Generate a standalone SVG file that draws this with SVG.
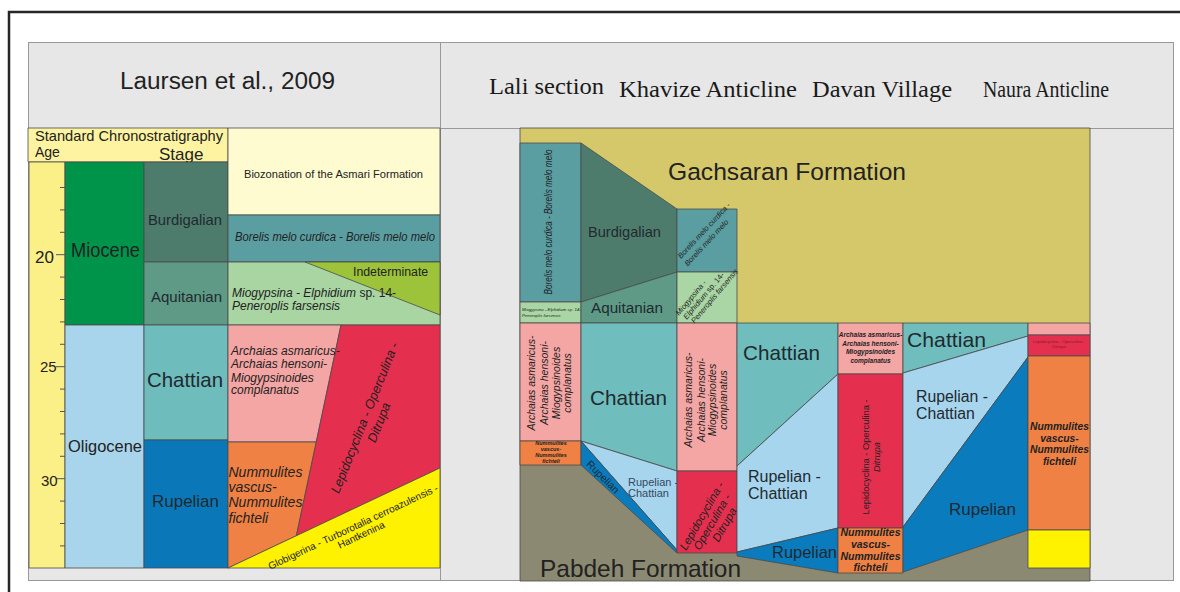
<svg xmlns="http://www.w3.org/2000/svg" width="1180" height="592" viewBox="0 0 1180 592">
<style>
text{font-family:"Liberation Sans",Arial,sans-serif;fill:#222}
.i{font-style:italic}
.b{font-weight:bold}
.m{text-anchor:middle}
.sr{font-family:"Liberation Serif","Times New Roman",serif;fill:#1a1a1a}
.e{stroke:#4a4a4a;stroke-width:0.8;stroke-linejoin:round}
.tk{stroke:#555;stroke-width:1;fill:none}
.st{fill:#1f2a30}
</style>
<rect width="1180" height="592" fill="#fff"/>
<path d="M9,592 V12 H1180" fill="none" stroke="#262626" stroke-width="2.5"/>
<g id="frames">
<rect x="28.5" y="42.5" width="412" height="538" fill="#e7e7e7" stroke="#999"/>
<rect x="440.5" y="42.5" width="733" height="538" fill="#e7e7e7" stroke="#999"/>
<line x1="28" y1="128.5" x2="1174" y2="128.5" stroke="#999"/>
</g>
<g id="headers">
<text x="120" y="89" font-size="23" textLength="215" lengthAdjust="spacingAndGlyphs">Laursen et al., 2009</text>
<text class="sr" x="489" y="94" font-size="24" textLength="115" lengthAdjust="spacingAndGlyphs">Lali section</text>
<text class="sr" x="619" y="97" font-size="24" textLength="178" lengthAdjust="spacingAndGlyphs">Khavize Anticline</text>
<text class="sr" x="812" y="97" font-size="24" textLength="140" lengthAdjust="spacingAndGlyphs">Davan Village</text>
<text class="sr" x="983" y="97" font-size="23" textLength="126" lengthAdjust="spacingAndGlyphs">Naura Anticline</text>
</g>
<g id="chrono-header">
<rect class="e" x="28" y="128" width="200" height="34" fill="#fdf3a0"/>
<text x="35" y="141" font-size="14.4" textLength="188" lengthAdjust="spacingAndGlyphs">Standard Chronostratigraphy</text>
<text x="35" y="157" font-size="14">Age</text>
<text x="159" y="160" font-size="17">Stage</text>
</g>
<g id="age-scale">
<rect class="e" x="29" y="162" width="36" height="406" fill="#fbef88"/>
<path class="tk" d="M60,187.5H65M60,209.9H65M60,232.3H65M56,254.7H65M60,277.1H65M60,299.5H65M60,321.9H65M60,344.3H65M56,366.7H65M60,389.1H65M60,411.5H65M60,433.9H65M60,456.3H65M56,478.7H65M60,501.1H65M60,523.5H65M60,545.9H65"/>
<text x="35" y="263" font-size="17">20</text>
<text x="40" y="372" font-size="15">25</text>
<text x="41" y="486" font-size="15">30</text>
</g>
<g id="epochs">
<rect class="e" x="65" y="162" width="79" height="163" fill="#00944a"/>
<rect class="e" x="65" y="325" width="79" height="243" fill="#a9d5ec"/>
<text x="71" y="257" font-size="19.5" textLength="69" lengthAdjust="spacingAndGlyphs">Miocene</text>
<text x="68" y="452" font-size="16.5" textLength="74" lengthAdjust="spacingAndGlyphs">Oligocene</text>
</g>
<g id="stages">
<rect class="e" x="144" y="162" width="84" height="100" fill="#4e7c6c"/>
<rect class="e" x="144" y="262" width="84" height="63" fill="#5e9a86"/>
<rect class="e" x="144" y="325" width="84" height="115" fill="#6fbcbc"/>
<rect class="e" x="144" y="440" width="84" height="128" fill="#0a78b8"/>
<text class="st" x="148" y="225" font-size="14.8" textLength="74" lengthAdjust="spacingAndGlyphs">Burdigalian</text>
<text class="st" x="151" y="302" font-size="15" textLength="71" lengthAdjust="spacingAndGlyphs">Aquitanian</text>
<text class="st" x="147" y="387" font-size="20.4" textLength="76" lengthAdjust="spacingAndGlyphs">Chattian</text>
<text class="st" x="152" y="507" font-size="17" textLength="67" lengthAdjust="spacingAndGlyphs">Rupelian</text>
</g>
<g id="biozones-left">
<rect class="e" x="228" y="128" width="212" height="87" fill="#fefbd0"/>
<rect class="e" x="228" y="215" width="212" height="47" fill="#5b9ea1"/>
<rect class="e" x="228" y="262" width="212" height="63" fill="#a8d5a2"/>
<polygon class="e" points="305,262 440,262 440,315" fill="#9cc33a"/>
<polygon class="e" points="228,325 341,325 316.3,442 228,442" fill="#f4a6a4"/>
<polygon class="e" points="228,442 316.3,442 296.4,535.8 228,568" fill="#ef8144"/>
<polygon class="e" points="341,325 440,325 440,468 296.4,535.8" fill="#e4304e"/>
<polygon class="e" points="228,568 440,468 440,568" fill="#fff200"/>
<text x="244" y="178" font-size="11" textLength="179" lengthAdjust="spacingAndGlyphs">Biozonation of the Asmari Formation</text>
<text class="i" x="235" y="241" font-size="12" textLength="200" lengthAdjust="spacingAndGlyphs">Borelis melo curdica - Borelis melo melo</text>
<text x="353" y="276" font-size="12.3">Indeterminate</text>
<text x="232" y="297" font-size="12"><tspan class="i">Miogypsina - Elphidium</tspan> sp. 14-</text>
<text class="i" x="232" y="310" font-size="12">Peneroplis farsensis</text>
<text class="i" font-size="12"><tspan x="231" y="355">Archaias asmaricus-</tspan><tspan x="231" y="368">Archaias hensoni-</tspan><tspan x="231" y="382">Miogypsinoides</tspan><tspan x="231" y="394">complanatus</tspan></text>
<text class="i" font-size="14"><tspan x="228.5" y="477">Nummulites</tspan><tspan x="228.5" y="492">vascus-</tspan><tspan x="228.5" y="507">Nummulites</tspan><tspan x="228.5" y="523">fichteli</tspan></text>
<text class="i m" font-size="13" transform="translate(365,418) rotate(-68.2)"><tspan x="0" y="4">Lepidocyclina - Operculina -</tspan><tspan x="1" y="19">Ditrupa</tspan></text>
<text class="m" font-size="10" transform="translate(353,527) rotate(-25.2)"><tspan x="0" y="3.5">Globigerina - Turborotalia cerroazulensis -</tspan><tspan x="4" y="14">Hantkenina</tspan></text>
</g>
<g id="gachsaran">
<rect class="e" x="520" y="128" width="570" height="196" fill="#d5c86a"/>
<text x="668" y="180" font-size="24.5" textLength="238" lengthAdjust="spacingAndGlyphs">Gachsaran Formation</text>
</g>
<g id="pabdeh">
<rect class="e" x="520" y="324" width="570" height="257" fill="#8b8971"/>
</g>
<g id="lali">
<rect class="e" x="520" y="143" width="61" height="159" fill="#5a9ea2"/>
<rect class="e" x="520" y="302" width="61" height="21" fill="#a9d6a4"/>
<rect class="e" x="520" y="323" width="61" height="118" fill="#f4a6a4"/>
<rect class="e" x="520" y="441" width="61" height="24" fill="#ef8144"/>
<text class="i m" font-size="10" transform="translate(552,222) rotate(-90)" textLength="145" lengthAdjust="spacingAndGlyphs">Borelis melo curdica - Borelis melo melo</text>
<text class="i" font-size="4.3"><tspan x="522" y="311">Miogypsina - Elphidium sp. 14-</tspan><tspan x="522" y="316.5">Peneroplis farsensis</tspan></text>
<text class="i m" font-size="10.5" transform="translate(535,383) rotate(-90)"><tspan x="0" y="0">Archaias asmaricus-</tspan><tspan x="0" y="12.5">Archaias hensoni-</tspan><tspan x="0" y="24.5">Miogypsinoides</tspan><tspan x="0" y="35.5">complanatus</tspan></text>
<text class="b i m" font-size="5.5"><tspan x="551" y="445">Nummulites</tspan><tspan x="551" y="451">vascus-</tspan><tspan x="551" y="457">Nummulites</tspan><tspan x="551" y="463">fichteli</tspan></text>
</g>
<g id="lali-khavize">
<polygon class="e" points="581,143 677,209 677,272 581,302" fill="#4e7c6c"/>
<polygon class="e" points="581,302 677,272 677,323 581,323" fill="#5e9a86"/>
<polygon class="e" points="581,323 677,323 677,471 581,441" fill="#6fbdbd"/>
<polygon class="e" points="581,441 677,471 677,550" fill="#a7d5ee"/>
<polygon class="e" points="581,441 677,550 677,553 581,465" fill="#0a7bbd"/>
<text class="st" x="588" y="237" font-size="14.6" textLength="73" lengthAdjust="spacingAndGlyphs">Burdigalian</text>
<text class="st" x="591" y="313" font-size="15.2" textLength="72" lengthAdjust="spacingAndGlyphs">Aquitanian</text>
<text class="st" x="590" y="405" font-size="20.7" textLength="77" lengthAdjust="spacingAndGlyphs">Chattian</text>
<text class="m st" font-size="10.5" transform="translate(603,477) rotate(45)" y="3.5">Rupelian</text>
<text font-size="11" style="fill:#34495e"><tspan x="628" y="486">Rupelian -</tspan><tspan x="628" y="497">Chattian</tspan></text>
</g>
<g id="khavize">
<rect class="e" x="677" y="209" width="60" height="63" fill="#5a9ea2"/>
<rect class="e" x="677" y="272" width="60" height="51" fill="#a9d6a4"/>
<rect class="e" x="677" y="323" width="60" height="148" fill="#f4a6a4"/>
<rect class="e" x="677" y="471" width="60" height="82" fill="#e4304e"/>
<text class="i" font-size="7.6" transform="translate(681,259) rotate(-47)"><tspan x="0" y="0">Borelis melo curdica -</tspan><tspan x="-1" y="10">Borelis melo melo</tspan></text>
<text font-size="7.6" transform="translate(679,316) rotate(-50)"><tspan class="i" x="0" y="0">Miogypsina -</tspan><tspan x="2" y="8.5"><tspan class="i">Elphidium</tspan> sp. 14-</tspan><tspan class="i" x="4" y="17">Peneroplis farsensis</tspan></text>
<text class="i m" font-size="10.5" transform="translate(692,400) rotate(-90)"><tspan x="0" y="0">Archaias asmaricus-</tspan><tspan x="0" y="12.5">Archaias hensoni-</tspan><tspan x="0" y="24">Miogypsinoides</tspan><tspan x="0" y="35">complanatus</tspan></text>
<text class="i m" font-size="11.5" transform="translate(712,520) rotate(-60)"><tspan x="-1.5" y="-7">Lepidocyclina -</tspan><tspan x="-1.7" y="5">Operculina -</tspan><tspan x="2.2" y="17">Ditrupa</tspan></text>
</g>
<g id="khavize-davan">
<polygon class="e" points="737,323 838,323 838,374 737,466" fill="#6fbdbd"/>
<polygon class="e" points="737,466 838,374 838,528 737,552" fill="#a7d5ee"/>
<polygon class="e" points="737,552 838,528 838,573 737,556" fill="#0a7bbd"/>
<text class="st" x="743" y="360" font-size="20.7" textLength="77" lengthAdjust="spacingAndGlyphs">Chattian</text>
<text class="st" font-size="16"><tspan x="748" y="482">Rupelian -</tspan><tspan x="748" y="499">Chattian</tspan></text>
<text class="st" x="772" y="558" font-size="16.5" textLength="65" lengthAdjust="spacingAndGlyphs">Rupelian</text>
</g>
<g id="davan">
<rect class="e" x="838" y="323" width="65" height="51" fill="#f4a6a4"/>
<rect class="e" x="838" y="374" width="65" height="154" fill="#e4304e"/>
<rect class="e" x="838" y="528" width="65" height="45" fill="#ef8144"/>
<text class="b i m" font-size="6.5"><tspan x="870.5" y="337">Archaias asmaricus-</tspan><tspan x="870.5" y="345.5">Archaias hensoni-</tspan><tspan x="870.5" y="354">Miogypsinoides</tspan><tspan x="870.5" y="362.5">complanatus</tspan></text>
<text class="m" font-size="9.3" transform="translate(868.5,457) rotate(-90)"><tspan x="0" y="0" textLength="115" lengthAdjust="spacingAndGlyphs">Lepidocyclina - Operculina -</tspan><tspan class="i" x="0" y="11.5">Ditrupa</tspan></text>
<text class="b i m" font-size="10.5"><tspan x="870.5" y="536">Nummulites</tspan><tspan x="870.5" y="548">vascus-</tspan><tspan x="870.5" y="560">Nummulites</tspan><tspan x="870.5" y="571">fichteli</tspan></text>
</g>
<g id="davan-naura">
<polygon class="e" points="903,323 1028,323 1028,336 903,373" fill="#6fbdbd"/>
<polygon class="e" points="903,373 1028,336 1028,357 903,527" fill="#a7d5ee"/>
<polygon class="e" points="903,527 1028,357 1028,530 903,572" fill="#0a7bbd"/>
<text class="st" x="907" y="347" font-size="21" textLength="79" lengthAdjust="spacingAndGlyphs">Chattian</text>
<text class="st" font-size="15.8"><tspan x="916" y="402">Rupelian -</tspan><tspan x="916" y="419">Chattian</tspan></text>
<text class="st" x="949" y="515" font-size="16.8" textLength="67" lengthAdjust="spacingAndGlyphs">Rupelian</text>
</g>
<g id="naura">
<rect class="e" x="1028" y="323" width="62" height="12" fill="#f4a6a4"/>
<rect class="e" x="1028" y="335" width="62" height="21" fill="#e4304e"/>
<rect class="e" x="1028" y="356" width="62" height="174" fill="#ef8144"/>
<rect class="e" x="1028" y="530" width="62" height="38" fill="#fff200"/>
<text class="m" font-size="4.2" style="fill:#8a1a2a"><tspan x="1059" y="343">Lepidocyclina - Operculina -</tspan><tspan x="1059" y="348">Ditrupa</tspan></text>
<text class="b i m" font-size="10.3"><tspan x="1059.5" y="430">Nummulites</tspan><tspan x="1059.5" y="442">vascus-</tspan><tspan x="1059.5" y="453">Nummulites</tspan><tspan x="1059.5" y="465">fichteli</tspan></text>
</g>
<g id="pabdeh-label">
<text x="540" y="577" font-size="24.4" textLength="201" lengthAdjust="spacingAndGlyphs">Pabdeh Formation</text>
</g>
</svg>
